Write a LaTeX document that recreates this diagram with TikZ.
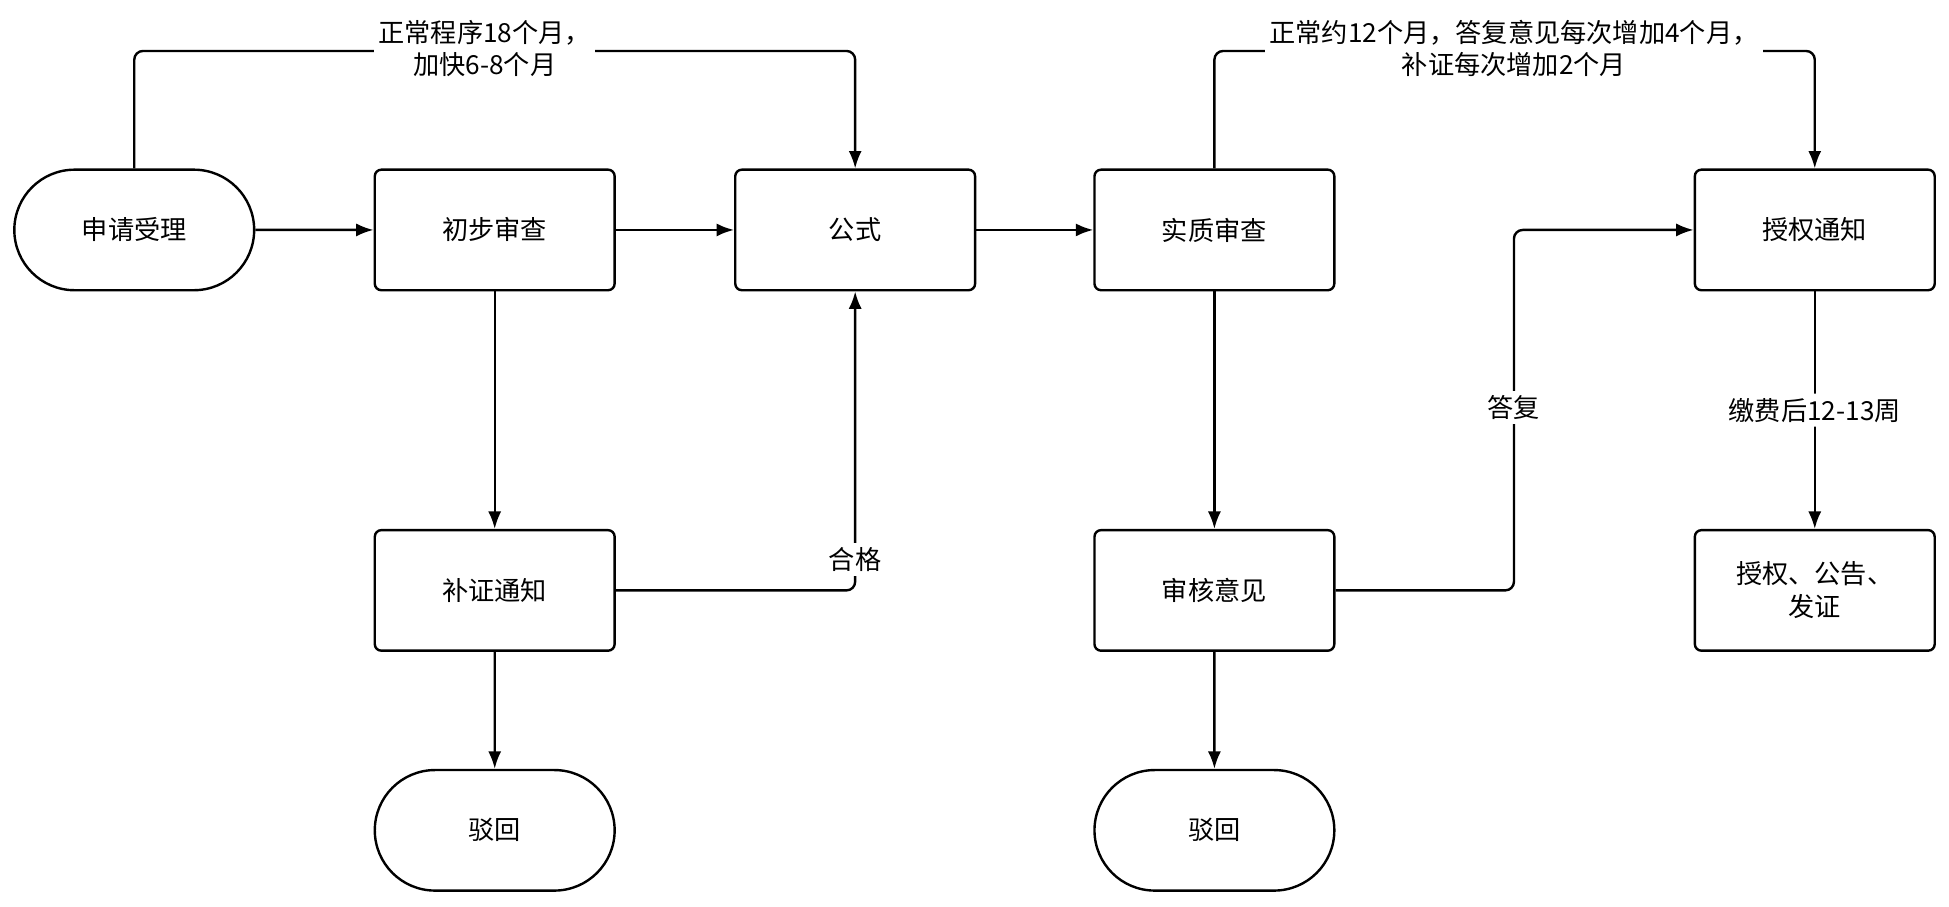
\documentclass[tikz,border=0pt]{standalone}
\usepackage{fontspec}
\setmainfont{Noto Sans CJK SC}
\usetikzlibrary{shapes.misc,arrows.meta}
\begin{document}
\begin{tikzpicture}[x=0.02cm,y=-0.02cm,
  box/.style={draw,line width=1.1pt,rounded corners=3pt,minimum width=3.86cm,minimum height=1.94cm,font=\fontsize{12}{15}\selectfont,align=center},
  term/.style={box,rounded rectangle,rounded corners=0pt,minimum width=3.86cm,inner xsep=0pt,text width=2.9cm},
  lbl/.style={fill=white,font=\fontsize{12}{15}\selectfont,align=center,inner sep=2pt},
  arr/.style={line width=1.1pt,-{Latex[length=8pt,width=6pt]},rounded corners=4pt}]
 \useasboundingbox (0,0) rectangle (1568,729);
 \node[term] (accept) at (108,185) {申请受理};
 \node[box] (prelim) at (398,185) {初步审查};
 \node[box] (publish) at (688,185) {公式};
 \node[box] (subst) at (977,185) {实质审查};
 \node[box] (grant) at (1460,185) {授权通知};
 \node[box] (supp) at (398,475) {补证通知};
 \node[box] (review) at (977,475) {审核意见};
 \node[box] (issue) at (1460,475) {授权、公告、\\发证};
 \node[term] (rejecta) at (398,668) {驳回};
 \node[term] (rejectb) at (977,668) {驳回};
 % main line
 \draw[arr] (accept) -- (prelim);
 \draw[arr] (prelim) -- (publish);
 \draw[arr] (publish) -- (subst);
 \draw[arr] (prelim) -- (supp);
 \draw[arr] (supp) -- (rejecta);
 \draw[arr] (subst) -- (review);
 \draw[arr] (review) -- (rejectb);
 % loops
 \draw[arr] (accept.north) |- (390,41) -| (publish.north);
 \node[lbl] at (390,39) {正常程序18个月，\\加快6-8个月};
 \draw[arr] (subst.north) |- (1218,41) -| (grant.north);
 \node[lbl] at (1218,39) {正常约12个月，答复意见每次增加4个月，\\补证每次增加2个月};
 \draw[arr] (supp.east) -| (publish.south);
 \node[lbl] at (688,450) {合格};
 \draw[arr] (review.east) -| (1218,185) -- (grant.west);
 \node[lbl] at (1218,328) {答复};
 \draw[arr] (grant) -- node[lbl]{缴费后12-13周} (issue);
\end{tikzpicture}
\end{document}
